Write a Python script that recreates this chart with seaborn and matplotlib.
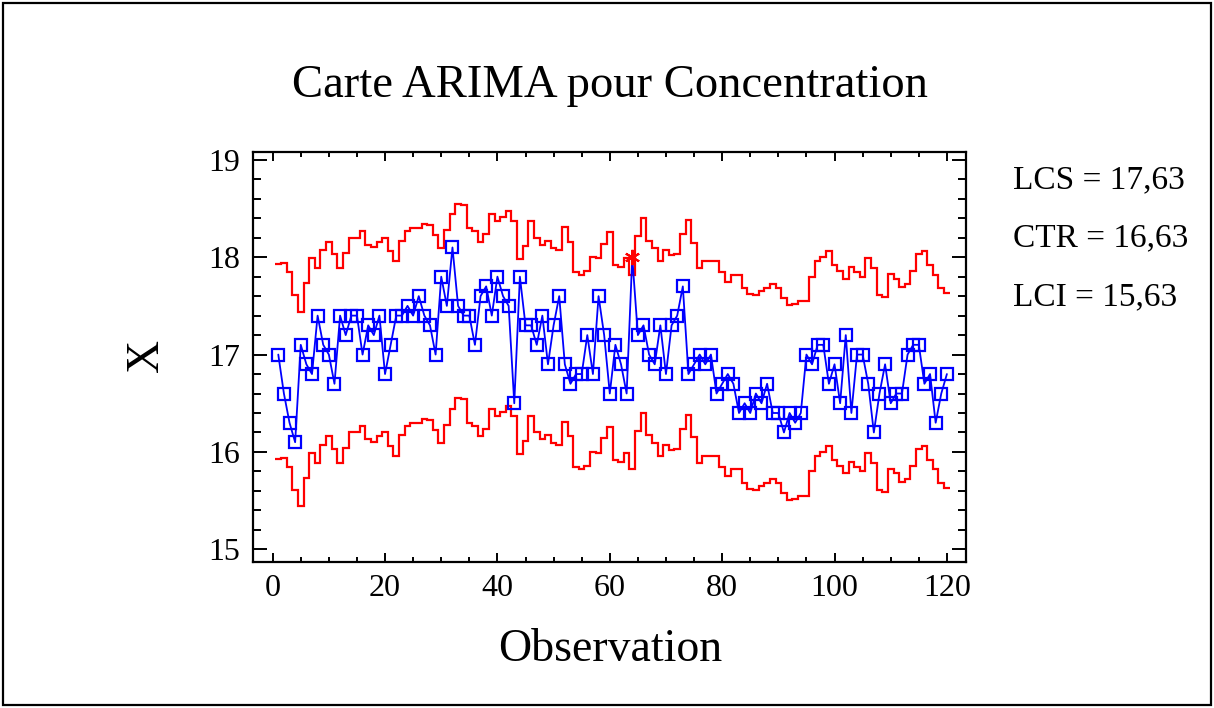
import numpy as np
import matplotlib
matplotlib.use("Agg")
import matplotlib.pyplot as plt
from matplotlib.patches import Rectangle
import seaborn as sns

# Concentration readings, observations 1..120
concentration = [
    17.0, 16.6, 16.3, 16.1, 17.1, 16.9, 16.8, 17.4, 17.1, 17.0,
    16.7, 17.4, 17.2, 17.4, 17.4, 17.0, 17.3, 17.2, 17.4, 16.8,
    17.1, 17.4, 17.4, 17.5, 17.4, 17.6, 17.4, 17.3, 17.0, 17.8,
    17.5, 18.1, 17.5, 17.4, 17.4, 17.1, 17.6, 17.7, 17.4, 17.8,
    17.6, 17.5, 16.5, 17.8, 17.3, 17.3, 17.1, 17.4, 16.9, 17.3,
    17.6, 16.9, 16.7, 16.8, 16.8, 17.2, 16.8, 17.6, 17.2, 16.6,
    17.1, 16.9, 16.6, 18.0, 17.2, 17.3, 17.0, 16.9, 17.3, 16.8,
    17.3, 17.4, 17.7, 16.8, 16.9, 17.0, 16.9, 17.0, 16.6, 16.7,
    16.8, 16.7, 16.4, 16.5, 16.4, 16.6, 16.5, 16.7, 16.4, 16.4,
    16.2, 16.4, 16.3, 16.4, 17.0, 16.9, 17.1, 17.1, 16.7, 16.9,
    16.5, 17.2, 16.4, 17.0, 17.0, 16.7, 16.2, 16.6, 16.9, 16.5,
    16.6, 16.6, 17.0, 17.1, 17.1, 16.7, 16.8, 16.3, 16.6, 16.8,
]

# One-step-ahead ARIMA forecasts (centre of the control band)
forecast = [
    16.93, 16.94, 16.85, 16.61, 16.44, 16.73, 16.99, 16.89, 17.07, 17.16,
    17.03, 16.89, 17.04, 17.20, 17.20, 17.27, 17.13, 17.10, 17.16, 17.20,
    17.06, 16.96, 17.17, 17.27, 17.30, 17.30, 17.34, 17.33, 17.23, 17.09,
    17.28, 17.44, 17.55, 17.54, 17.30, 17.27, 17.16, 17.24, 17.44, 17.37,
    17.41, 17.47, 17.37, 16.98, 17.11, 17.37, 17.20, 17.13, 17.17, 17.09,
    17.07, 17.31, 17.16, 16.85, 16.82, 16.86, 17.00, 16.99, 17.14, 17.26,
    16.92, 16.90, 16.99, 16.82, 17.22, 17.40, 17.17, 17.09, 16.96, 17.07,
    17.02, 17.03, 17.24, 17.38, 17.15, 16.89, 16.96, 16.96, 16.96, 16.85,
    16.75, 16.82, 16.82, 16.68, 16.62, 16.61, 16.65, 16.68, 16.72, 16.68,
    16.58, 16.51, 16.52, 16.55, 16.55, 16.80, 16.96, 17.00, 17.06, 16.92,
    16.86, 16.78, 16.90, 16.85, 16.80, 16.99, 16.89, 16.61, 16.59, 16.83,
    16.78, 16.69, 16.72, 16.86, 17.03, 17.06, 16.92, 16.82, 16.68, 16.63,
]

half_width = 1.0          # distance of each control limit from the forecast
x_ticks = [0, 20, 40, 60, 80, 100, 120]
y_ticks = [15, 16, 17, 18, 19]

observation = np.arange(1, len(concentration) + 1)
conc = np.asarray(concentration)
centre = np.asarray(forecast)
upper = centre + half_width
lower = centre - half_width
out_of_control = (conc > upper) | (conc < lower)

sns.set_style("ticks")
plt.rcParams["font.family"] = ["Liberation Serif", "DejaVu Serif"]
plt.rcParams["text.color"] = "black"

W, H = 1214, 708
fig = plt.figure(figsize=(W / 100, H / 100), dpi=100)
fig.patch.set_facecolor("white")
fig.patches.append(Rectangle((3 / W, 3 / H), 1 - 6 / W, 1 - 6 / H,
                             transform=fig.transFigure, fill=False,
                             edgecolor="black", linewidth=1.6, zorder=0))

ax = fig.add_axes([253 / W, 1 - 562 / H, (966 - 253) / W, (562 - 152) / H])
ax.set_facecolor("white")

# control limits drawn as steps around each observation
edges = np.arange(0.5, len(forecast) + 1.0)
ax.stairs(upper, edges, baseline=None, color="#ff0000", linewidth=1.6, zorder=2)
ax.stairs(lower, edges, baseline=None, color="#ff0000", linewidth=1.6, zorder=2)

in_ctrl_idx = [int(i) for i in np.where(~out_of_control)[0]]
sns.lineplot(x=observation, y=conc, ax=ax, color="#0000ff", linewidth=1.3,
             marker="s", markersize=8.6, mfc="none", mec="#0000ff", mew=1.6,
             markevery=in_ctrl_idx, zorder=3)
ax.plot(observation[out_of_control], conc[out_of_control], linestyle="none",
        marker=(6, 2, 0), markersize=11, markeredgewidth=1.5,
        color="#ff0000", zorder=4)

ax.set_xlim(-3.5, 123.4)
ax.set_ylim(14.87, 19.08)
ax.set_xticks(x_ticks)
ax.set_yticks(y_ticks)
ax.set_xticks(np.arange(0, 121, 5), minor=True)
ax.set_yticks(np.arange(15, 19.01, 0.2), minor=True)
ax.set_xlabel("")
ax.set_ylabel("")

for side in ["left", "right", "top", "bottom"]:
    ax.spines[side].set_visible(True)
    ax.spines[side].set_linewidth(1.6)
    ax.spines[side].set_color("black")

ax.tick_params(axis="both", which="both", direction="in", top=True, right=True,
               width=1.4, colors="black", labelcolor="black", labelsize=23, pad=9)
ax.tick_params(axis="y", which="major", length=10)
ax.tick_params(axis="y", which="minor", length=5.5)
ax.tick_params(axis="x", which="major", length=6.5)
ax.tick_params(axis="x", which="minor", length=3.6)

fig.text(610 / W, 1 - 86 / H, "Carte ARIMA pour Concentration",
         ha="center", va="center", fontsize=33.6, color="black")
fig.text(610 / W, 1 - 650 / H, "Observation", ha="center", va="center",
         fontsize=33, color="black")
fig.text(147 / W, 1 - 355 / H, "X", ha="center", va="center", fontsize=33,
         rotation=90, color="black")

def fmt(v):
    return f"{v:.2f}".replace(".", ",")

ctr = centre[-1]
labels = [("LCS", ctr + half_width), ("CTR", ctr), ("LCI", ctr - half_width)]
for k, (name, val) in enumerate(labels):
    fig.text(1013 / W, 1 - (180 + 58.5 * k) / H, f"{name} = {fmt(val)}",
             ha="left", va="center", fontsize=24, color="black")

fig.savefig("out.png", dpi=100, facecolor="white")
